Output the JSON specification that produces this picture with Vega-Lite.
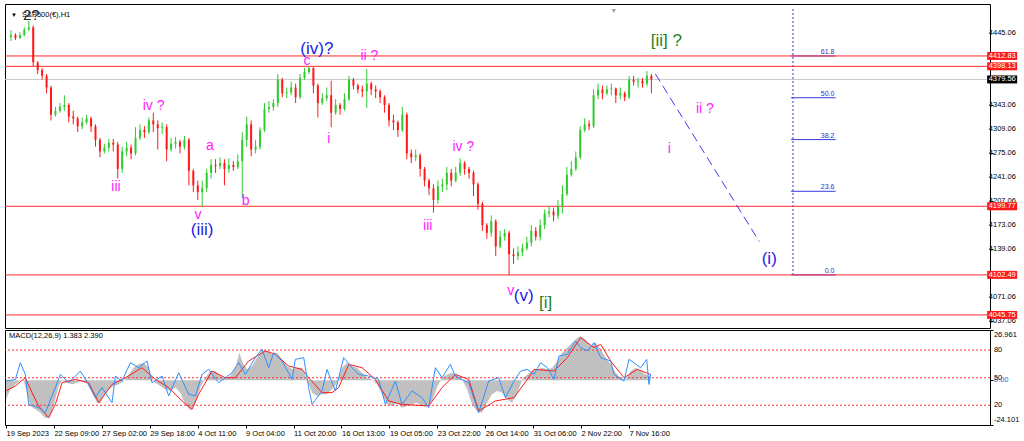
{
"$schema": "https://vega.github.io/schema/vega-lite/v6.json",
"background": "#ffffff",
"padding": {"left": 3, "top": 3, "right": 0, "bottom": 0},
"bounds": "flush",
"spacing": 2,
"config": {"view": {"stroke": "#000000", "strokeWidth": 1}, "font": "Liberation Sans", "axis": {"labelFont": "Liberation Sans", "labelFontSize": 7.5, "labelColor": "#000000", "tickColor": "#000000", "grid": false, "domain": false}},
"datasets": {
"candles": [
{"t":0,"o":4439.5,"h":4449.2,"l":4434.0,"c":4442.3},
{"t":6,"o":4442.3,"h":4445.0,"l":4435.4,"c":4438.2},
{"t":12,"o":4438.2,"h":4446.4,"l":4436.8,"c":4442.3},
{"t":18,"o":4442.3,"h":4453.3,"l":4440.9,"c":4450.5},
{"t":24,"o":4450.5,"h":4462.9,"l":4447.8,"c":4453.3},
{"t":30,"o":4453.3,"h":4456.0,"l":4398.3,"c":4403.8},
{"t":36,"o":4403.8,"h":4405.2,"l":4387.3,"c":4392.8},
{"t":42,"o":4392.8,"h":4395.6,"l":4379.1,"c":4384.6},
{"t":48,"o":4384.6,"h":4387.3,"l":4359.9,"c":4368.1},
{"t":54,"o":4368.1,"h":4370.9,"l":4321.4,"c":4329.6},
{"t":60,"o":4329.6,"h":4340.6,"l":4326.9,"c":4335.1},
{"t":66,"o":4335.1,"h":4346.1,"l":4332.4,"c":4340.6},
{"t":72,"o":4340.6,"h":4357.1,"l":4335.1,"c":4343.4},
{"t":78,"o":4343.4,"h":4346.1,"l":4318.7,"c":4326.9},
{"t":84,"o":4326.9,"h":4335.1,"l":4315.9,"c":4324.2},
{"t":90,"o":4324.2,"h":4326.9,"l":4304.9,"c":4313.2},
{"t":96,"o":4313.2,"h":4325.5,"l":4309.0,"c":4318.7},
{"t":102,"o":4318.7,"h":4329.6,"l":4315.9,"c":4324.2},
{"t":108,"o":4324.2,"h":4326.9,"l":4304.9,"c":4313.2},
{"t":114,"o":4313.2,"h":4315.9,"l":4284.3,"c":4293.9},
{"t":120,"o":4293.9,"h":4296.7,"l":4269.2,"c":4277.4},
{"t":126,"o":4277.4,"h":4288.4,"l":4274.7,"c":4282.9},
{"t":132,"o":4282.9,"h":4295.3,"l":4277.4,"c":4289.8},
{"t":138,"o":4289.8,"h":4295.3,"l":4277.4,"c":4287.1},
{"t":144,"o":4287.1,"h":4291.2,"l":4239.0,"c":4252.7},
{"t":150,"o":4252.7,"h":4284.3,"l":4247.2,"c":4277.4},
{"t":156,"o":4277.4,"h":4291.2,"l":4270.6,"c":4282.9},
{"t":162,"o":4282.9,"h":4287.1,"l":4266.5,"c":4274.7},
{"t":168,"o":4274.7,"h":4311.8,"l":4272.0,"c":4296.7},
{"t":174,"o":4296.7,"h":4315.9,"l":4293.9,"c":4307.7},
{"t":180,"o":4307.7,"h":4313.2,"l":4296.7,"c":4304.9},
{"t":186,"o":4304.9,"h":4325.5,"l":4302.2,"c":4321.4},
{"t":192,"o":4321.4,"h":4332.4,"l":4304.9,"c":4315.9},
{"t":198,"o":4315.9,"h":4321.4,"l":4280.2,"c":4310.4},
{"t":204,"o":4310.4,"h":4318.7,"l":4302.2,"c":4311.8},
{"t":210,"o":4311.8,"h":4315.9,"l":4263.7,"c":4280.2},
{"t":216,"o":4280.2,"h":4296.7,"l":4277.4,"c":4288.4},
{"t":222,"o":4288.4,"h":4298.0,"l":4281.6,"c":4291.2},
{"t":228,"o":4291.2,"h":4293.9,"l":4274.7,"c":4284.3},
{"t":234,"o":4284.3,"h":4299.4,"l":4280.2,"c":4293.9},
{"t":240,"o":4293.9,"h":4296.7,"l":4229.4,"c":4250.0},
{"t":246,"o":4250.0,"h":4252.7,"l":4219.7,"c":4229.4},
{"t":252,"o":4229.4,"h":4236.2,"l":4208.8,"c":4219.7},
{"t":258,"o":4219.7,"h":4236.2,"l":4199.8,"c":4225.2},
{"t":264,"o":4225.2,"h":4252.7,"l":4219.7,"c":4247.2},
{"t":270,"o":4247.2,"h":4266.5,"l":4239.0,"c":4258.2},
{"t":276,"o":4258.2,"h":4266.5,"l":4247.2,"c":4256.8},
{"t":282,"o":4256.8,"h":4269.2,"l":4252.7,"c":4261.0},
{"t":288,"o":4261.0,"h":4266.5,"l":4229.4,"c":4252.7},
{"t":294,"o":4252.7,"h":4267.8,"l":4247.2,"c":4258.2},
{"t":300,"o":4258.2,"h":4263.7,"l":4250.0,"c":4255.5},
{"t":306,"o":4255.5,"h":4273.3,"l":4252.7,"c":4263.7},
{"t":312,"o":4263.7,"h":4304.9,"l":4211.5,"c":4293.9},
{"t":318,"o":4293.9,"h":4326.9,"l":4284.3,"c":4315.9},
{"t":324,"o":4315.9,"h":4321.4,"l":4270.6,"c":4280.2},
{"t":330,"o":4280.2,"h":4293.9,"l":4274.7,"c":4284.3},
{"t":336,"o":4284.3,"h":4311.8,"l":4280.2,"c":4307.7},
{"t":342,"o":4307.7,"h":4346.1,"l":4304.9,"c":4337.9},
{"t":348,"o":4337.9,"h":4348.9,"l":4332.4,"c":4340.6},
{"t":354,"o":4340.6,"h":4351.6,"l":4335.1,"c":4346.1},
{"t":360,"o":4346.1,"h":4387.3,"l":4340.6,"c":4379.1},
{"t":366,"o":4379.1,"h":4381.8,"l":4354.4,"c":4359.9},
{"t":372,"o":4359.9,"h":4368.1,"l":4353.0,"c":4361.2},
{"t":378,"o":4361.2,"h":4376.4,"l":4357.1,"c":4368.1},
{"t":384,"o":4368.1,"h":4373.6,"l":4346.1,"c":4354.4},
{"t":390,"o":4354.4,"h":4387.3,"l":4351.6,"c":4381.8},
{"t":396,"o":4381.8,"h":4395.6,"l":4379.1,"c":4390.1},
{"t":402,"o":4390.1,"h":4398.1,"l":4387.3,"c":4395.6},
{"t":408,"o":4395.6,"h":4397.0,"l":4359.9,"c":4370.9},
{"t":414,"o":4370.9,"h":4373.6,"l":4325.5,"c":4346.1},
{"t":420,"o":4346.1,"h":4359.9,"l":4343.4,"c":4353.0},
{"t":426,"o":4353.0,"h":4368.1,"l":4348.9,"c":4357.1},
{"t":432,"o":4357.1,"h":4377.7,"l":4311.8,"c":4332.4},
{"t":438,"o":4332.4,"h":4351.6,"l":4329.6,"c":4343.4},
{"t":444,"o":4343.4,"h":4346.1,"l":4329.6,"c":4337.9},
{"t":450,"o":4337.9,"h":4359.9,"l":4335.1,"c":4351.6},
{"t":456,"o":4351.6,"h":4384.6,"l":4348.9,"c":4379.1},
{"t":462,"o":4379.1,"h":4381.8,"l":4365.4,"c":4370.9},
{"t":468,"o":4370.9,"h":4373.6,"l":4359.9,"c":4365.4},
{"t":474,"o":4365.4,"h":4370.9,"l":4354.4,"c":4362.6},
{"t":480,"o":4362.6,"h":4394.2,"l":4339.3,"c":4373.6},
{"t":486,"o":4373.6,"h":4376.4,"l":4357.1,"c":4365.4},
{"t":492,"o":4365.4,"h":4370.9,"l":4353.0,"c":4362.6},
{"t":498,"o":4362.6,"h":4365.4,"l":4346.1,"c":4354.4},
{"t":504,"o":4354.4,"h":4357.1,"l":4332.4,"c":4343.4},
{"t":510,"o":4343.4,"h":4346.1,"l":4313.2,"c":4321.4},
{"t":516,"o":4321.4,"h":4329.6,"l":4307.7,"c":4318.7},
{"t":522,"o":4318.7,"h":4321.4,"l":4298.0,"c":4307.7},
{"t":528,"o":4307.7,"h":4340.6,"l":4304.9,"c":4329.6},
{"t":534,"o":4329.6,"h":4332.4,"l":4266.5,"c":4274.7},
{"t":540,"o":4274.7,"h":4280.2,"l":4261.0,"c":4269.2},
{"t":546,"o":4269.2,"h":4280.2,"l":4263.7,"c":4272.0},
{"t":552,"o":4272.0,"h":4274.7,"l":4241.7,"c":4252.7},
{"t":558,"o":4252.7,"h":4255.5,"l":4228.0,"c":4236.2},
{"t":564,"o":4236.2,"h":4239.0,"l":4215.6,"c":4225.2},
{"t":570,"o":4225.2,"h":4230.7,"l":4190.9,"c":4208.8},
{"t":576,"o":4208.8,"h":4236.2,"l":4203.3,"c":4228.0},
{"t":582,"o":4228.0,"h":4239.0,"l":4219.7,"c":4230.7},
{"t":588,"o":4230.7,"h":4255.5,"l":4222.5,"c":4247.2},
{"t":594,"o":4247.2,"h":4252.7,"l":4228.0,"c":4236.2},
{"t":600,"o":4236.2,"h":4255.5,"l":4233.5,"c":4247.2},
{"t":606,"o":4247.2,"h":4267.8,"l":4243.1,"c":4261.0},
{"t":612,"o":4261.0,"h":4263.7,"l":4244.5,"c":4252.7},
{"t":618,"o":4252.7,"h":4255.5,"l":4239.0,"c":4247.2},
{"t":624,"o":4247.2,"h":4250.0,"l":4214.3,"c":4230.7},
{"t":630,"o":4230.7,"h":4233.5,"l":4195.0,"c":4203.3},
{"t":636,"o":4203.3,"h":4206.0,"l":4164.8,"c":4173.0},
{"t":642,"o":4173.0,"h":4175.8,"l":4153.8,"c":4162.1},
{"t":648,"o":4162.1,"h":4186.8,"l":4156.6,"c":4178.5},
{"t":654,"o":4178.5,"h":4181.3,"l":4129.1,"c":4142.8},
{"t":660,"o":4142.8,"h":4164.8,"l":4140.1,"c":4156.6},
{"t":666,"o":4156.6,"h":4167.5,"l":4151.1,"c":4162.1},
{"t":672,"o":4162.1,"h":4164.8,"l":4102.5,"c":4131.8},
{"t":678,"o":4131.8,"h":4140.1,"l":4118.1,"c":4129.1},
{"t":684,"o":4129.1,"h":4142.8,"l":4123.6,"c":4134.6},
{"t":690,"o":4134.6,"h":4146.9,"l":4129.1,"c":4140.1},
{"t":696,"o":4140.1,"h":4156.6,"l":4137.3,"c":4148.3},
{"t":702,"o":4148.3,"h":4173.0,"l":4142.8,"c":4164.8},
{"t":708,"o":4164.8,"h":4170.3,"l":4151.1,"c":4156.6},
{"t":714,"o":4156.6,"h":4181.3,"l":4151.1,"c":4173.0},
{"t":720,"o":4173.0,"h":4195.0,"l":4167.5,"c":4189.5},
{"t":726,"o":4189.5,"h":4200.5,"l":4184.0,"c":4192.3},
{"t":732,"o":4192.3,"h":4197.8,"l":4178.5,"c":4186.8},
{"t":738,"o":4186.8,"h":4208.8,"l":4181.3,"c":4200.5},
{"t":744,"o":4200.5,"h":4229.4,"l":4189.5,"c":4217.0},
{"t":750,"o":4217.0,"h":4255.5,"l":4214.3,"c":4244.5},
{"t":756,"o":4244.5,"h":4263.7,"l":4241.7,"c":4252.7},
{"t":762,"o":4252.7,"h":4277.4,"l":4250.0,"c":4269.2},
{"t":768,"o":4269.2,"h":4313.2,"l":4266.5,"c":4307.7},
{"t":774,"o":4307.7,"h":4324.2,"l":4304.9,"c":4315.9},
{"t":780,"o":4315.9,"h":4321.4,"l":4307.7,"c":4313.2},
{"t":786,"o":4313.2,"h":4365.4,"l":4310.4,"c":4357.1},
{"t":792,"o":4357.1,"h":4373.6,"l":4351.6,"c":4365.4},
{"t":798,"o":4365.4,"h":4370.9,"l":4351.6,"c":4359.9},
{"t":804,"o":4359.9,"h":4370.9,"l":4357.1,"c":4365.4},
{"t":810,"o":4365.4,"h":4373.6,"l":4357.1,"c":4366.7},
{"t":816,"o":4366.7,"h":4368.1,"l":4346.1,"c":4357.1},
{"t":822,"o":4357.1,"h":4368.1,"l":4351.6,"c":4359.9},
{"t":828,"o":4359.9,"h":4362.6,"l":4348.9,"c":4354.4},
{"t":834,"o":4354.4,"h":4384.6,"l":4351.6,"c":4379.1},
{"t":840,"o":4379.1,"h":4384.6,"l":4370.9,"c":4376.4},
{"t":846,"o":4376.4,"h":4381.8,"l":4368.1,"c":4377.7},
{"t":852,"o":4377.7,"h":4381.8,"l":4368.1,"c":4373.6},
{"t":858,"o":4373.6,"h":4391.5,"l":4370.0,"c":4384.6},
{"t":864,"o":4384.6,"h":4387.3,"l":4359.9,"c":4379.6}
],
"hl": [
{"p":4412.83,"lab":"4412.83","kind":"red"},
{"p":4398.13,"lab":"4398.13","kind":"red"},
{"p":4199.77,"lab":"4199.77","kind":"red"},
{"p":4102.49,"lab":"4102.49","kind":"red"},
{"p":4045.75,"lab":"4045.75","kind":"red"},
{"p":4379.56,"lab":"4379.56","kind":"cur"}
],
"pticks": [{"p":4445.06},{"p":4343.06},{"p":4309.06},{"p":4275.06},{"p":4241.06},{"p":4207.06},{"p":4173.06},{"p":4139.06},{"p":4071.06},{"p":4037.06}],
"mticks": [
{"v":26.961,"lab":"26.961","pos":"top"},
{"v":16.2,"lab":"80","pos":"mid"},
{"v":1.3,"lab":"50","pos":"mid"},
{"v":0,"lab":"0.00","pos":"mid"},
{"v":-13.5,"lab":"20","pos":"mid"},
{"v":-24.101,"lab":"-24.101","pos":"bottom"}
],
"fib": [
{"p":4102.49,"lab":"0.0"},
{"p":4221.0,"lab":"23.6"},
{"p":4294.3,"lab":"38.2"},
{"p":4353.6,"lab":"50.0"},
{"p":4412.8,"lab":"61.8"}
],
"wave": [{"t":869.4,"p":4387.3},{"t":1009.6,"p":4149.7}],
"labels": [
{"t":141.6,"p":4226.6,"text":"iii","kind":"minor"},
{"t":192.3,"p":4342.0,"text":"iv ?","kind":"minor"},
{"t":268.4,"p":4285.7,"text":"a","kind":"minor"},
{"t":252.4,"p":4186.8,"text":"v","kind":"minor"},
{"t":316.5,"p":4207.4,"text":"b","kind":"minor"},
{"t":399.3,"p":4405.2,"text":"c","kind":"minor"},
{"t":428.7,"p":4295.3,"text":"i","kind":"minor"},
{"t":483.5,"p":4412.1,"text":"ii ?","kind":"minor"},
{"t":610.3,"p":4284.3,"text":"iv ?","kind":"minor"},
{"t":562.2,"p":4171.7,"text":"iii","kind":"minor"},
{"t":674.4,"p":4079.6,"text":"v","kind":"minor"},
{"t":888.1,"p":4281.6,"text":"i","kind":"minor"},
{"t":936.2,"p":4337.9,"text":"ii ?","kind":"minor"},
{"t":412.7,"p":4423.1,"text":"(iv)?","kind":"inter"},
{"t":257.8,"p":4166.2,"text":"(iii)","kind":"inter"},
{"t":691.8,"p":4072.8,"text":"(v)","kind":"inter"},
{"t":1023,"p":4125.0,"text":"(i)","kind":"inter"},
{"t":884.1,"p":4434.0,"text":"[ii] ?","kind":"primary"},
{"t":721.2,"p":4063.2,"text":"[i]","kind":"primary"}
],
"hist": [
{"t":0,"v":-10.3},{"t":5.8,"v":-4.9},{"t":12.5,"v":-2.3},{"t":19.1,"v":-0.1},{"t":23.6,"v":-0.5},{"t":28.0,"v":-6.7},{"t":32.5,"v":-13.9},{"t":39.2,"v":-15.7},{"t":45.9,"v":-17.5},{"t":52.5,"v":-20.5},{"t":57.0,"v":-20.2},{"t":61.4,"v":-16.6},{"t":65.9,"v":-10.3},{"t":70.3,"v":-3.1},{"t":74.8,"v":-0.5},{"t":81.5,"v":-1.4},{"t":88.2,"v":-2.3},{"t":94.8,"v":-1.4},{"t":101.5,"v":-0.5},{"t":108.2,"v":-1.9},{"t":114.9,"v":-6.7},{"t":121.5,"v":-12.1},{"t":126.0,"v":-12.6},{"t":130.4,"v":-8.5},{"t":137.1,"v":-4.9},{"t":143.8,"v":-3.1},{"t":150.5,"v":-2.3},{"t":157.2,"v":-0.5},{"t":163.8,"v":3.1},{"t":170.5,"v":6.7},{"t":177.2,"v":8.5},{"t":183.9,"v":9.4},{"t":190.5,"v":6.7},{"t":195.0,"v":1.3},{"t":199.5,"v":-1.4},{"t":206.1,"v":-3.1},{"t":212.8,"v":-4.9},{"t":219.5,"v":-5.8},{"t":226.2,"v":-4.0},{"t":232.8,"v":-6.7},{"t":239.5,"v":-13.0},{"t":246.2,"v":-16.2},{"t":252.9,"v":-12.1},{"t":259.6,"v":-4.0},{"t":266.2,"v":1.3},{"t":272.9,"v":4.9},{"t":279.6,"v":4.9},{"t":286.3,"v":2.2},{"t":293.0,"v":1.0},{"t":299.6,"v":2.2},{"t":306.3,"v":6.7},{"t":311.6,"v":14.8},{"t":316.1,"v":9.4},{"t":321.9,"v":5.8},{"t":328.6,"v":7.6},{"t":335.2,"v":12.1},{"t":341.9,"v":16.0},{"t":348.6,"v":15.7},{"t":355.3,"v":13.9},{"t":362.0,"v":14.8},{"t":368.6,"v":11.2},{"t":375.3,"v":7.6},{"t":382.0,"v":5.8},{"t":388.7,"v":6.7},{"t":395.3,"v":6.7},{"t":402.0,"v":0.4},{"t":408.7,"v":-6.7},{"t":415.4,"v":-8.5},{"t":422.1,"v":-7.6},{"t":428.7,"v":-7.6},{"t":435.4,"v":-4.9},{"t":442.1,"v":-1.4},{"t":448.8,"v":6.7},{"t":455.4,"v":9.4},{"t":462.1,"v":7.6},{"t":468.8,"v":6.7},{"t":475.5,"v":4.0},{"t":482.1,"v":1.3},{"t":488.8,"v":0.4},{"t":495.5,"v":-2.3},{"t":502.2,"v":-7.6},{"t":508.9,"v":-13.0},{"t":515.5,"v":-13.9},{"t":522.2,"v":-12.1},{"t":528.9,"v":-14.8},{"t":535.6,"v":-13.9},{"t":542.3,"v":-13.0},{"t":548.9,"v":-12.1},{"t":555.6,"v":-13.9},{"t":562.3,"v":-13.9},{"t":569.0,"v":-11.2},{"t":575.6,"v":-4.0},{"t":582.3,"v":1.3},{"t":589.0,"v":3.1},{"t":595.7,"v":4.0},{"t":602.4,"v":3.1},{"t":609.0,"v":0.4},{"t":615.7,"v":-4.9},{"t":622.4,"v":-13.0},{"t":629.1,"v":-16.9},{"t":635.7,"v":-17.5},{"t":642.4,"v":-12.1},{"t":649.1,"v":-7.6},{"t":655.8,"v":-5.8},{"t":662.5,"v":-6.7},{"t":669.1,"v":-10.3},{"t":675.8,"v":-12.1},{"t":682.9,"v":-6.7},{"t":689.5,"v":0.4},{"t":696.2,"v":3.1},{"t":702.9,"v":4.9},{"t":709.6,"v":5.8},{"t":716.2,"v":6.7},{"t":722.9,"v":5.8},{"t":729.6,"v":6.7},{"t":736.3,"v":10.3},{"t":742.9,"v":14.8},{"t":749.6,"v":17.5},{"t":756.3,"v":20.2},{"t":763.0,"v":22.8},{"t":767.4,"v":23.7},{"t":774.1,"v":21.9},{"t":780.8,"v":18.4},{"t":787.5,"v":20.2},{"t":794.2,"v":16.6},{"t":800.8,"v":12.1},{"t":807.5,"v":8.5},{"t":814.2,"v":4.0},{"t":820.9,"v":1.3},{"t":827.5,"v":0.4},{"t":834.2,"v":4.9},{"t":840.9,"v":6.7},{"t":847.6,"v":4.9},{"t":854.3,"v":3.1},{"t":860.0,"v":2.2}
],
"sig": [
{"t":0,"v":-5.8},{"t":12.5,"v":-3.1},{"t":25.8,"v":1.3},{"t":34.7,"v":-6.7},{"t":43.6,"v":-13.9},{"t":57.0,"v":-20.2},{"t":65.9,"v":-13.0},{"t":74.8,"v":-1.4},{"t":92.6,"v":0.4},{"t":110.4,"v":-1.4},{"t":123.8,"v":-12.1},{"t":141.6,"v":-2.3},{"t":159.4,"v":1.3},{"t":181.6,"v":6.7},{"t":199.5,"v":0.4},{"t":217.3,"v":-4.0},{"t":235.1,"v":-11.2},{"t":248.4,"v":-15.7},{"t":257.3,"v":-7.6},{"t":275.1,"v":4.9},{"t":293.0,"v":1.3},{"t":306.3,"v":1.3},{"t":324.1,"v":10.3},{"t":346.4,"v":15.7},{"t":359.7,"v":13.9},{"t":377.5,"v":7.6},{"t":395.3,"v":5.8},{"t":404.2,"v":1.3},{"t":422.1,"v":-6.7},{"t":435.4,"v":-6.7},{"t":444.3,"v":-4.0},{"t":457.7,"v":8.5},{"t":475.5,"v":6.7},{"t":493.3,"v":0.4},{"t":511.1,"v":-11.2},{"t":528.9,"v":-13.0},{"t":564.5,"v":-13.9},{"t":582.3,"v":-4.0},{"t":600.1,"v":3.1},{"t":617.9,"v":0.4},{"t":631.3,"v":-16.6},{"t":653.6,"v":-11.2},{"t":678.4,"v":-9.4},{"t":696.2,"v":0.4},{"t":705.1,"v":5.8},{"t":731.8,"v":4.9},{"t":749.6,"v":12.1},{"t":767.4,"v":22.8},{"t":785.2,"v":17.5},{"t":794.2,"v":19.3},{"t":807.5,"v":10.3},{"t":825.3,"v":1.3},{"t":843.1,"v":5.8},{"t":860.9,"v":3.1}
],
"blue": [
{"t":0,"v":-0.5},{"t":12.5,"v":0.4},{"t":19.1,"v":9.4},{"t":25.8,"v":3.1},{"t":30.3,"v":-13.0},{"t":43.6,"v":-14.8},{"t":52.5,"v":-17.5},{"t":65.9,"v":-4.0},{"t":72.6,"v":3.1},{"t":83.7,"v":-1.4},{"t":99.3,"v":4.9},{"t":110.4,"v":-2.3},{"t":119.3,"v":-9.4},{"t":128.2,"v":-4.0},{"t":141.6,"v":-12.1},{"t":146.0,"v":2.2},{"t":154.9,"v":-0.5},{"t":166.1,"v":9.4},{"t":177.2,"v":6.7},{"t":188.3,"v":10.3},{"t":195.0,"v":-1.4},{"t":208.4,"v":2.2},{"t":217.3,"v":-8.5},{"t":230.6,"v":4.0},{"t":244.0,"v":-7.6},{"t":252.9,"v":-8.5},{"t":261.8,"v":3.1},{"t":270.7,"v":5.8},{"t":284.0,"v":-1.4},{"t":301.8,"v":4.0},{"t":310.7,"v":9.4},{"t":319.7,"v":3.1},{"t":333.0,"v":12.1},{"t":341.9,"v":16.6},{"t":350.8,"v":6.7},{"t":357.5,"v":14.8},{"t":368.6,"v":10.3},{"t":382.0,"v":0.4},{"t":386.4,"v":11.2},{"t":397.6,"v":12.1},{"t":404.2,"v":-4.0},{"t":408.7,"v":-13.0},{"t":422.1,"v":-5.8},{"t":428.7,"v":5.8},{"t":439.9,"v":-5.8},{"t":451.0,"v":12.1},{"t":462.1,"v":6.7},{"t":471.0,"v":3.1},{"t":484.4,"v":2.2},{"t":497.7,"v":0.4},{"t":506.6,"v":-13.0},{"t":520.0,"v":-0.5},{"t":528.9,"v":-13.0},{"t":542.3,"v":-5.8},{"t":555.6,"v":-9.4},{"t":564.5,"v":-14.8},{"t":573.4,"v":6.7},{"t":582.3,"v":1.3},{"t":593.5,"v":8.5},{"t":600.1,"v":2.2},{"t":617.9,"v":-1.4},{"t":631.3,"v":-17.5},{"t":644.6,"v":-0.5},{"t":658.0,"v":1.3},{"t":666.9,"v":-9.4},{"t":678.5,"v":-0.5},{"t":687.3,"v":4.9},{"t":696.2,"v":5.8},{"t":705.1,"v":3.1},{"t":714.0,"v":9.4},{"t":722.9,"v":6.7},{"t":731.8,"v":0.4},{"t":738.5,"v":13.0},{"t":749.6,"v":13.9},{"t":760.8,"v":21.0},{"t":767.4,"v":17.5},{"t":776.3,"v":15.7},{"t":785.2,"v":20.2},{"t":794.2,"v":12.1},{"t":807.5,"v":10.3},{"t":812.0,"v":3.1},{"t":825.3,"v":-0.5},{"t":832.0,"v":11.2},{"t":847.6,"v":6.7},{"t":855.6,"v":11.2},{"t":858.7,"v":-2.3},{"t":860.9,"v":3.1}
],
"lev": [{"v":16.2},{"v":1.3},{"v":-13.5}]
},
"vconcat": [
{
"width": 985,
"height": 324,
"layer": [
{"data": {"name": "hl"}, "transform": [{"filter": "datum.kind == 'cur'"}], "mark": {"type": "rule", "color": "#c8c8c8", "strokeWidth": 1},
 "encoding": {"y": {"field": "p", "type": "quantitative", "scale": {"domain": [4034.3, 4479.4], "nice": false, "zero": false},
  "axis": {"orient": "right", "title": null, "values": [4445.06, 4343.06, 4309.06, 4275.06, 4241.06, 4207.06, 4173.06, 4139.06, 4071.06, 4037.06], "labels": false, "tickSize": 3}}}},
{"data": {"name": "fib"}, "mark": {"type": "rule", "color": "#3a3ae0", "strokeWidth": 1},
 "encoding": {"y": {"field": "p", "type": "quantitative"}, "x": {"datum": 1052.4, "type": "quantitative", "axis": null}, "x2": {"datum": 1112.5}}},
{"data": {"values": [{"a": 1}]}, "mark": {"type": "rule", "color": "#3a3ae0", "strokeWidth": 1, "strokeDash": [2, 2]},
 "encoding": {"x": {"datum": 1055, "type": "quantitative", "axis": null}, "y": {"datum": 4479.4, "type": "quantitative"}, "y2": {"datum": 4102.49}}},
{"data": {"name": "fib"}, "mark": {"type": "text", "color": "#3030c8", "fontSize": 7, "align": "right", "baseline": "bottom", "dy": -1},
 "encoding": {"y": {"field": "p", "type": "quantitative"}, "x": {"datum": 1111, "type": "quantitative", "axis": null}, "text": {"field": "lab"}}},
{"data": {"name": "hl"}, "transform": [{"filter": "datum.kind == 'red'"}], "mark": {"type": "rule", "color": "#ff2a2a", "strokeWidth": 1},
 "encoding": {"y": {"field": "p", "type": "quantitative"}}},
{"data": {"name": "candles"}, "mark": {"type": "rule", "strokeWidth": 1},
 "encoding": {"x": {"field": "t", "type": "quantitative", "scale": {"domain": [-1.34, 1314.1], "nice": false, "zero": false}, "axis": null},
  "y": {"field": "l", "type": "quantitative"}, "y2": {"field": "h"},
  "color": {"condition": {"test": "datum.c >= datum.o", "value": "#2ecc2e"}, "value": "#ff1a1a"}}},
{"data": {"name": "candles"}, "mark": {"type": "bar", "size": 2},
 "encoding": {"x": {"field": "t", "type": "quantitative", "axis": null},
  "y": {"field": "o", "type": "quantitative"}, "y2": {"field": "c"},
  "color": {"condition": {"test": "datum.c >= datum.o", "value": "#2ecc2e"}, "value": "#ff1a1a"}}},
{"data": {"name": "wave"}, "mark": {"type": "line", "color": "#3a3aff", "strokeWidth": 1, "strokeDash": [9, 5]},
 "encoding": {"x": {"field": "t", "type": "quantitative", "axis": null}, "y": {"field": "p", "type": "quantitative"}}},
{"data": {"name": "labels"}, "transform": [{"filter": "datum.kind == 'minor'"}], "mark": {"type": "text", "color": "#ff22ff", "fontSize": 14, "align": "center", "baseline": "middle"},
 "encoding": {"x": {"field": "t", "type": "quantitative", "axis": null}, "y": {"field": "p", "type": "quantitative"}, "text": {"field": "text"}}},
{"data": {"name": "labels"}, "transform": [{"filter": "datum.kind == 'inter'"}], "mark": {"type": "text", "color": "#2222e6", "fontSize": 17, "align": "center", "baseline": "middle"},
 "encoding": {"x": {"field": "t", "type": "quantitative", "axis": null}, "y": {"field": "p", "type": "quantitative"}, "text": {"field": "text"}}},
{"data": {"name": "labels"}, "transform": [{"filter": "datum.kind == 'primary'"}], "mark": {"type": "text", "color": "#1f7f1f", "fontSize": 17, "align": "center", "baseline": "middle"},
 "encoding": {"x": {"field": "t", "type": "quantitative", "axis": null}, "y": {"field": "p", "type": "quantitative"}, "text": {"field": "text"}}},
{"data": {"values": [{"t": 4.0, "p": 4471.1, "s": "▼"}]}, "mark": {"type": "text", "color": "#000000", "fontSize": 6, "align": "center", "baseline": "middle"},
 "encoding": {"x": {"field": "t", "type": "quantitative", "axis": null}, "y": {"field": "p", "type": "quantitative"}, "text": {"field": "s"}}},
{"data": {"values": [{"t": 14.7, "p": 4471.1, "s": "S&P500(€),H1"}]}, "mark": {"type": "text", "color": "#000000", "fontSize": 7.5, "align": "left", "baseline": "middle"},
 "encoding": {"x": {"field": "t", "type": "quantitative", "axis": null}, "y": {"field": "p", "type": "quantitative"}, "text": {"field": "s"}}},
{"data": {"values": [{"t": 27.4, "p": 4471.1, "s": "2?"}]}, "mark": {"type": "text", "color": "#222222", "fontSize": 15, "align": "center", "baseline": "middle"},
 "encoding": {"x": {"field": "t", "type": "quantitative", "axis": null}, "y": {"field": "p", "type": "quantitative"}, "text": {"field": "s"}}},
{"data": {"values": [{"t": 813.3, "p": 4476.6, "s": "▼"}]}, "mark": {"type": "text", "color": "#a0a0a0", "fontSize": 7, "align": "center", "baseline": "middle"},
 "encoding": {"x": {"field": "t", "type": "quantitative", "axis": null}, "y": {"field": "p", "type": "quantitative"}, "text": {"field": "s"}}},
{"data": {"name": "pticks"}, "mark": {"type": "text", "color": "#000000", "fontSize": 7.5, "align": "left", "baseline": "middle"},
 "encoding": {"y": {"field": "p", "type": "quantitative"}, "x": {"datum": 1319.3, "type": "quantitative", "axis": null}, "text": {"field": "p", "type": "quantitative", "format": ".2f"}}},
{"data": {"name": "hl"}, "mark": {"type": "bar", "size": 8},
 "encoding": {"y": {"field": "p", "type": "quantitative"}, "x": {"datum": 1317, "type": "quantitative", "axis": null}, "x2": {"datum": 1357.5},
  "color": {"condition": {"test": "datum.kind == 'cur'", "value": "#000000"}, "value": "#ff1a1a"}}},
{"data": {"name": "hl"}, "mark": {"type": "text", "color": "#ffffff", "fontSize": 7.5, "align": "center", "baseline": "middle"},
 "encoding": {"y": {"field": "p", "type": "quantitative"}, "x": {"datum": 1337.3, "type": "quantitative", "axis": null}, "text": {"field": "lab"}}}
]
},
{
"width": 985,
"height": 95,
"layer": [
{"data": {"name": "hist"}, "mark": {"type": "area", "color": "#c0c0c0", "opacity": 1, "interpolate": "linear"},
 "encoding": {"x": {"field": "t", "type": "quantitative", "scale": {"domain": [-1.34, 1314.1], "nice": false, "zero": false},
   "axis": {"orient": "bottom", "title": null, "values": [0, 64, 128, 192, 256, 320, 384, 448, 512, 576, 640, 704, 768, 832],
    "labelExpr": "['19 Sep 2023','22 Sep 09:00','27 Sep 02:00','29 Sep 18:00','4 Oct 11:00','9 Oct 04:00','11 Oct 20:00','16 Oct 13:00','19 Oct 05:00','23 Oct 22:00','26 Oct 14:00','31 Oct 06:00','2 Nov 22:00','7 Nov 16:00'][round(datum.value / 64)]",
    "labelAlign": "left", "labelBaseline": "top", "labelPadding": 1, "tickSize": 3, "labelFlush": false, "labelOverlap": false, "labelBound": false}},
  "y": {"field": "v", "type": "quantitative", "scale": {"domain": [-24.101, 26.961], "nice": false, "zero": false},
   "axis": {"orient": "right", "title": null, "values": [-24.101, -13.5, 0, 16.2, 26.961], "labels": false, "tickSize": 3}},
  "y2": {"datum": 0}}},
{"data": {"name": "lev"}, "mark": {"type": "rule", "color": "#ff3030", "strokeWidth": 1, "strokeDash": [2, 2]},
 "encoding": {"y": {"field": "v", "type": "quantitative"}}},
{"data": {"name": "sig"}, "mark": {"type": "line", "color": "#ff1a1a", "strokeWidth": 1},
 "encoding": {"x": {"field": "t", "type": "quantitative"}, "y": {"field": "v", "type": "quantitative"}}},
{"data": {"name": "blue"}, "mark": {"type": "line", "color": "#2f8fff", "strokeWidth": 1},
 "encoding": {"x": {"field": "t", "type": "quantitative"}, "y": {"field": "v", "type": "quantitative"}}},
{"data": {"values": [{"t": 4.0, "v": 23.7, "s": "MACD(12,26,9) 1.383 2.390"}]}, "mark": {"type": "text", "color": "#000000", "fontSize": 7.5, "align": "left", "baseline": "middle"},
 "encoding": {"x": {"field": "t", "type": "quantitative"}, "y": {"field": "v", "type": "quantitative"}, "text": {"field": "s"}}},
{"data": {"name": "mticks"}, "transform": [{"filter": "datum.pos == 'mid'"}], "mark": {"type": "text", "fontSize": 7.5, "align": "left", "baseline": "middle"},
 "encoding": {"y": {"field": "v", "type": "quantitative"}, "x": {"datum": 1319.3, "type": "quantitative"}, "text": {"field": "lab"},
  "color": {"condition": {"test": "datum.lab == '0.00'", "value": "#1e6fd0"}, "value": "#000000"}}},
{"data": {"name": "mticks"}, "transform": [{"filter": "datum.pos == 'top'"}], "mark": {"type": "text", "color": "#000000", "fontSize": 7.5, "align": "left", "baseline": "top", "dy": 1},
 "encoding": {"y": {"field": "v", "type": "quantitative"}, "x": {"datum": 1319.3, "type": "quantitative"}, "text": {"field": "lab"}}},
{"data": {"name": "mticks"}, "transform": [{"filter": "datum.pos == 'bottom'"}], "mark": {"type": "text", "color": "#000000", "fontSize": 7.5, "align": "left", "baseline": "bottom", "dy": -1},
 "encoding": {"y": {"field": "v", "type": "quantitative"}, "x": {"datum": 1319.3, "type": "quantitative"}, "text": {"field": "lab"}}}
]
}
]
}
